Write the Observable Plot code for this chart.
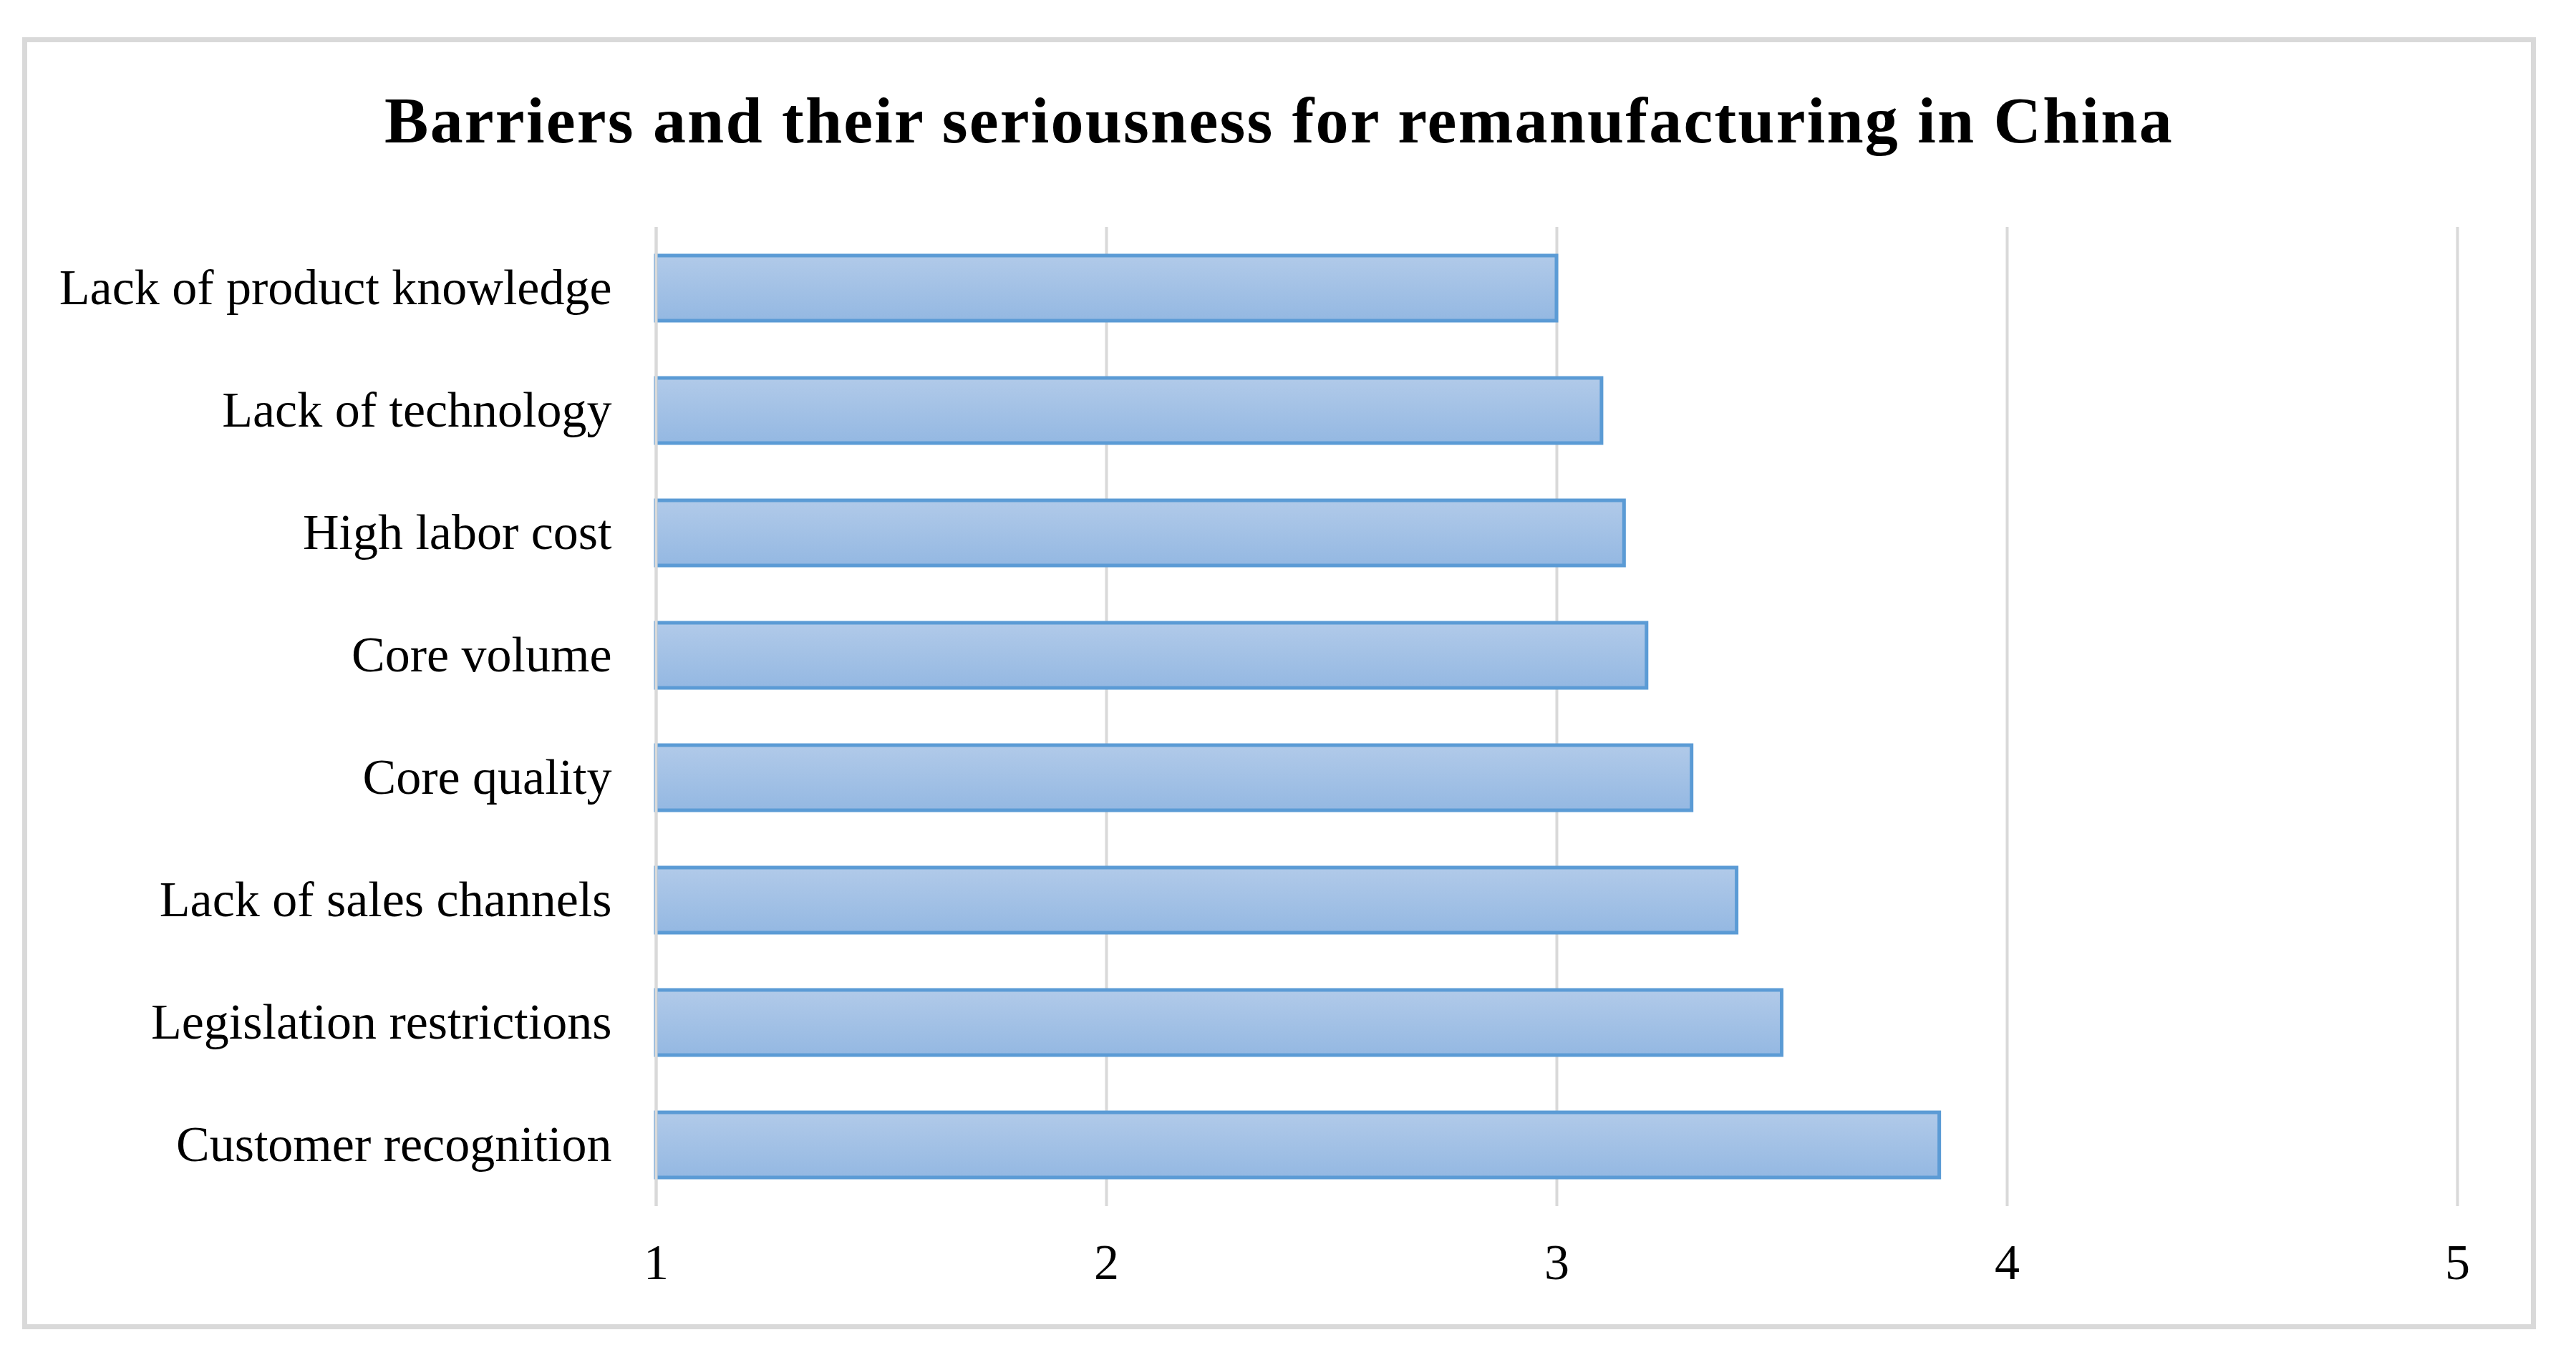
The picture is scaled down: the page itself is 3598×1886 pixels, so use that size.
<!DOCTYPE html>
<html>
<head>
<meta charset="utf-8">
<script src="https://cdn.jsdelivr.net/npm/d3@7"></script>
<script src="https://cdn.jsdelivr.net/npm/@observablehq/plot@0.6"></script>
<style>
  html, body { margin: 0; padding: 0; background: #ffffff; }
  body { width: 3598px; height: 1886px; position: relative; overflow: hidden; font-family: "Liberation Serif", "Times New Roman", serif; }
  #frame { position: absolute; left: 31px; top: 52px; width: 3497px; height: 1791px; border: 7px solid #d9d9d9; }
  #title { position: absolute; left: 31px; top: 122px; width: 3511px; text-align: center; font-size: 92px; line-height: 92px; letter-spacing: 2.2px; font-weight: bold; color: #000; }
  #chart { position: absolute; left: 0; top: 250px; }
</style>
</head>
<body>
<div id="frame"></div>
<div id="title">Barriers and their seriousness for remanufacturing in China</div>
<div id="chart"></div>
<script>
const categories = [
  "Lack of product knowledge",
  "Lack of technology",
  "High labor cost",
  "Core volume",
  "Core quality",
  "Lack of sales channels",
  "Legislation restrictions",
  "Customer recognition"
];
const values = [3.0, 3.1, 3.15, 3.2, 3.3, 3.4, 3.5, 3.85];
const xTicks = [1, 2, 3, 4, 5];
const baseline = 1;

const data = categories.map((c, i) => ({category: c, value: values[i], base: baseline}));

const gradientDefs = () => {
  const defs = d3.create("svg:defs");
  const lg = defs.append("linearGradient")
    .attr("id", "barGrad").attr("x1", 0).attr("y1", 0).attr("x2", 0).attr("y2", 1);
  lg.append("stop").attr("offset", "0%").attr("stop-color", "#b1cae9");
  lg.append("stop").attr("offset", "100%").attr("stop-color", "#94b8e2");
  return defs.node();
};

const chart = Plot.plot({
  width: 3598,
  height: 1636,
  marginTop: 67,
  marginBottom: 201,
  marginLeft: 916,
  marginRight: 166,
  style: {fontFamily: "Liberation Serif, Times New Roman, serif", fontSize: "70px", color: "#000", background: "transparent"},
  x: {domain: [1, 5], axis: null},
  y: {domain: categories, paddingInner: 0.47, paddingOuter: 0.235, axis: null},
  marks: [
    gradientDefs,
    Plot.ruleX(xTicks, {stroke: "#d9d9d9", strokeWidth: 4}),
    Plot.barX(data, {y: "category", x1: "base", x2: "value", fill: "url(#barGrad)", stroke: "#5b9bd5", strokeWidth: 5}),
    Plot.ruleX([baseline], {stroke: "#d9d9d9", strokeWidth: 4}),
    Plot.axisX({ticks: xTicks, tickSize: 0, tickPadding: 52, fontSize: 70, tickFormat: d => String(d), label: null}),
    Plot.axisY({tickSize: 0, tickPadding: 62, fontSize: 70, label: null})
  ]
});
document.getElementById("chart").appendChild(chart);
</script>
</body>
</html>
